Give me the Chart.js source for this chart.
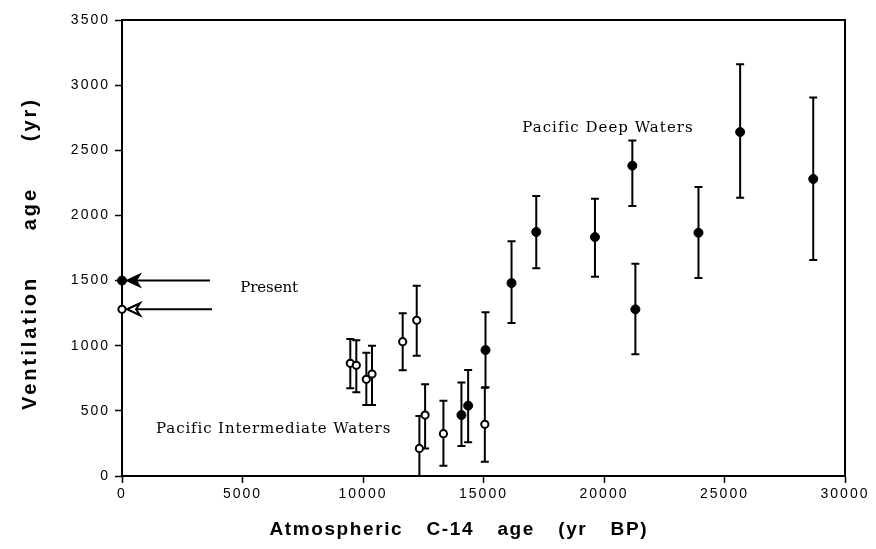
<!DOCTYPE html>
<html>
<head>
<meta charset="utf-8">
<script src="https://cdn.jsdelivr.net/npm/chart.js@4.4.1/dist/chart.umd.min.js"></script>
<style>
  html, body { margin: 0; padding: 0; background: #fff; }
  canvas { display: block; }
</style>
</head>
<body>
<canvas id="c" width="876" height="549"></canvas>
<script>
// ---- Data ----
// Pacific Deep Waters (filled circles)
const deepX  = [14085, 14363, 15083, 16163, 17189, 19625, 21176, 21302, 23920, 25649, 28682];
const deepY  = [468, 540, 967, 1481, 1873, 1834, 2382, 1279, 1867, 2640, 2280];
const deepLo = [230, 259, 681, 1174, 1594, 1530, 2072, 934, 1520, 2136, 1658];
const deepHi = [718, 814, 1256, 1801, 2149, 2128, 2576, 1630, 2218, 3160, 2906];

// Pacific Intermediate Waters (open circles)
const intX  = [9473, 9723, 10138, 10374, 11647, 12229, 12340, 12577, 13337, 15055];
const intY  = [865, 850, 742, 783, 1031, 1195, 212, 468, 325, 397];
const intLo = [673, 642, 545, 545, 811, 923, 0, 212, 79, 110];
const intHi = [1051, 1041, 946, 1000, 1249, 1461, 460, 704, 578, 678];

// Present-day values (at age 0)
const presentX = 0;
const presentDeep = 1500;
const presentInt = 1280;
const arrowEndX = 3650;

// Axis ranges / ticks
const xMin = 0, xMax = 30000, xStep = 5000;
const yMin = 0, yMax = 3500, yStep = 500;

// Labels
const xTitle = "Atmospheric C-14 age (yr BP)";
const yTitle = "Ventilation age (yr)";
const labels = [
  { text: "Pacific Deep Waters", x: 16608, y: 2673, width: 170 },
  { text: "Pacific Intermediate Waters", x: 1413, y: 361, width: 234 },
  { text: "Present", x: 4903, y: 1443, width: 58 }
];

const toPts = (xs, ys) => xs.map((x, i) => ({ x, y: ys[i] }));

// draw text with fixed letter spacing, stretching word gaps to hit a width
function drawWords(ctx, text, x, y, width, font, ls) {
  ctx.save();
  ctx.font = font;
  ctx.letterSpacing = ls + 'px';
  ctx.textBaseline = 'middle';
  ctx.textAlign = 'left';
  const words = text.split(' ');
  const ws = words.map(w => ctx.measureText(w).width - ls);
  const total = ws.reduce((a, b) => a + b, 0);
  const gap = words.length > 1 ? (width - total) / (words.length - 1) : 0;
  let sx = x - width / 2;
  words.forEach((w, i) => { ctx.fillText(w, sx, y); sx += ws[i] + gap; });
  ctx.restore();
}

function drawFitted(ctx, text, x, y, width, font) {
  ctx.save();
  ctx.font = font;
  ctx.letterSpacing = '0px';
  const w = ctx.measureText(text).width;
  const n = text.length - 1;
  const sp = n > 0 ? Math.max(-1, (width - w) / n) : 0;
  ctx.letterSpacing = sp.toFixed(2) + 'px';
  ctx.textBaseline = 'middle';
  ctx.textAlign = 'left';
  ctx.fillText(text, x, y);
  ctx.restore();
}

const decor = {
  id: 'decor',
  beforeDraw(chart) {
    chart.ctx.letterSpacing = '2px';
  },
  beforeDatasetsDraw(chart) {
    const { ctx, scales: { x, y } } = chart;
    ctx.save();
    ctx.strokeStyle = '#000';
    ctx.lineWidth = 2;
    const bars = (xs, lo, hi) => {
      xs.forEach((v, i) => {
        const px = x.getPixelForValue(v);
        const pl = y.getPixelForValue(lo[i]);
        const ph = y.getPixelForValue(hi[i]);
        ctx.beginPath();
        ctx.moveTo(px, pl); ctx.lineTo(px, ph);
        if (lo[i] > yMin) { ctx.moveTo(px - 4, pl); ctx.lineTo(px + 4, pl); }
        ctx.moveTo(px - 4, ph); ctx.lineTo(px + 4, ph);
        ctx.stroke();
      });
    };
    bars(deepX, deepLo, deepHi);
    bars(intX, intLo, intHi);
    ctx.restore();
  },
  afterDatasetsDraw(chart) {
    const { ctx, scales: { x, y } } = chart;
    ctx.save();
    ctx.fillStyle = '#000';
    ctx.strokeStyle = '#000';
    const x0 = x.getPixelForValue(presentX);
    const xe = x.getPixelForValue(arrowEndX);
    const yd = y.getPixelForValue(presentDeep);
    const yi = y.getPixelForValue(presentInt);
    ctx.lineWidth = 2;
    ctx.beginPath();
    ctx.moveTo(x0 + 14, yd); ctx.lineTo(xe, yd);
    ctx.moveTo(x0 + 14, yi); ctx.lineTo(xe + 2, yi);
    ctx.stroke();
    // filled head
    ctx.beginPath();
    ctx.moveTo(x0 + 3, yd);
    ctx.lineTo(x0 + 20, yd - 8);
    ctx.lineTo(x0 + 15, yd);
    ctx.lineTo(x0 + 20, yd + 8);
    ctx.closePath();
    ctx.fill();
    // open head
    ctx.beginPath();
    ctx.moveTo(x0 + 5, yi);
    ctx.lineTo(x0 + 18, yi - 6);
    ctx.lineTo(x0 + 14, yi);
    ctx.lineTo(x0 + 18, yi + 6);
    ctx.closePath();
    ctx.fillStyle = '#fff';
    ctx.fill();
    ctx.lineWidth = 2;
    ctx.stroke();
    ctx.fillStyle = '#000';
    labels.forEach(l => {
      drawFitted(ctx, l.text, x.getPixelForValue(l.x), y.getPixelForValue(l.y), l.width,
        '15px "DejaVu Serif", "Liberation Serif", serif');
    });
    ctx.restore();
  },
  afterDraw(chart) {
    const { ctx, chartArea: a } = chart;
    ctx.save();
    ctx.strokeStyle = '#000';
    ctx.lineWidth = 2;
    ctx.beginPath();
    ctx.moveTo(a.left, a.top); ctx.lineTo(a.right, a.top); ctx.lineTo(a.right, a.bottom);
    ctx.stroke();
    ctx.fillStyle = '#000';
    drawWords(ctx, xTitle, 458, 530, 377, 'bold 19px "Liberation Sans", Arial, sans-serif', 1.6);
    ctx.translate(30, 255);
    ctx.rotate(-Math.PI / 2);
    drawWords(ctx, yTitle, 0, 0, 310, 'bold 20px "Liberation Sans", Arial, sans-serif', 3);
    ctx.restore();
  }
};

const plainTick = v => String(v);

new Chart(document.getElementById('c'), {
  type: 'scatter',
  data: {
    datasets: [
      {
        label: 'Pacific Deep Waters',
        data: toPts(deepX, deepY).concat([{ x: presentX, y: presentDeep }]),
        pointRadius: 4.5,
        pointBackgroundColor: '#000',
        pointBorderColor: '#000',
        pointBorderWidth: 1,
        clip: false
      },
      {
        label: 'Pacific Intermediate Waters',
        data: toPts(intX, intY).concat([{ x: presentX, y: presentInt }]),
        pointRadius: 3.6,
        pointBackgroundColor: '#fff',
        pointBorderColor: '#000',
        pointBorderWidth: 2,
        clip: false
      }
    ]
  },
  options: {
    responsive: false,
    animation: false,
    devicePixelRatio: 1,
    layout: { padding: { top: 20, right: 31, left: 0, bottom: 0 } },
    plugins: { legend: { display: false }, tooltip: { enabled: false }, title: { display: false } },
    scales: {
      x: {
        type: 'linear', min: xMin, max: xMax,
        afterFit(s) { s.height = 73; },
        ticks: { stepSize: xStep, color: '#000', padding: 3, maxRotation: 0, callback: plainTick,
                 font: { family: '"Liberation Sans", Arial, sans-serif', size: 14 } },
        grid: { drawOnChartArea: false, drawTicks: true, tickLength: 7, tickColor: '#000', tickWidth: 1.5 },
        border: { display: true, color: '#000', width: 2 }
      },
      y: {
        type: 'linear', min: yMin, max: yMax,
        afterFit(s) { s.width = 122; },
        ticks: { stepSize: yStep, color: '#000', padding: 5, callback: plainTick,
                 font: { family: '"Liberation Sans", Arial, sans-serif', size: 14 } },
        grid: { drawOnChartArea: false, drawTicks: true, tickLength: 7, tickColor: '#000', tickWidth: 1.5 },
        border: { display: true, color: '#000', width: 2 }
      }
    }
  },
  plugins: [decor]
});
</script>
</body>
</html>
